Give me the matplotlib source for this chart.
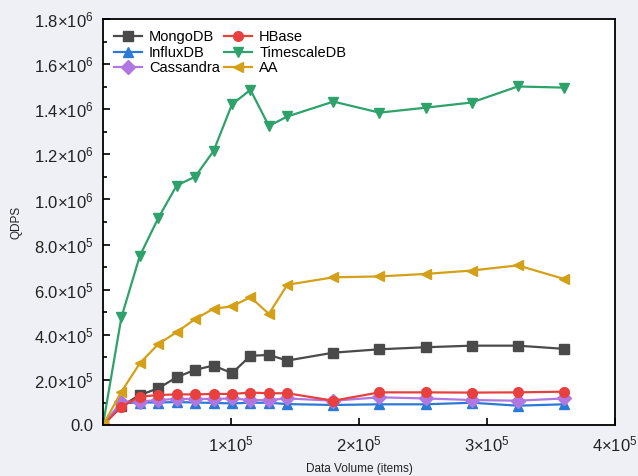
import matplotlib
matplotlib.use('Agg')
import matplotlib.pyplot as plt
from matplotlib.ticker import FuncFormatter, MultipleLocator

plt.rcParams['font.family'] = ['Liberation Sans', 'DejaVu Sans']
plt.rcParams['mathtext.fontset'] = 'custom'
plt.rcParams['mathtext.rm'] = 'Liberation Sans'
plt.rcParams['mathtext.it'] = 'Liberation Sans'

# data volume (items)
volume = [0, 14400, 28800, 43200, 57600, 72000, 86400, 100800, 115200,
          129600, 144000, 180000, 216000, 252000, 288000, 324000, 360000]

mongodb = [0, 85000, 133000, 163000, 212000, 245000, 264000, 230000, 307000,
           311000, 286000, 321000, 336000, 345000, 352000, 352000, 338000]
hbase = [0, 81000, 126000, 133000, 136000, 136000, 138000, 138000, 144000,
         141000, 141000, 108000, 145000, 145000, 144000, 145000, 148000]
influxdb = [0, 97000, 100000, 100000, 102000, 100000, 98000, 96000, 99000,
            99000, 93000, 89000, 92000, 92000, 99000, 86000, 92000]
timescaledb = [0, 478000, 750000, 918000, 1062000, 1101000, 1215000, 1422000, 1486000,
               1326000, 1368000, 1434000, 1385000, 1407000, 1430000, 1501000, 1496000]
cassandra = [0, 104000, 104000, 111000, 116000, 116000, 116000, 118000, 111000,
             111000, 118000, 108000, 123000, 118000, 111000, 108000, 118000]
aa = [0, 148000, 274000, 359000, 412000, 470000, 516000, 526000, 567000,
      493000, 622000, 655000, 659000, 670000, 685000, 708000, 648000]

series = [
    ('MongoDB', mongodb, '#4a4a4a', 's'),
    ('InfluxDB', influxdb, '#2b7bd6', '^'),
    ('Cassandra', cassandra, '#b077e0', 'D'),
    ('HBase', hbase, '#e8403f', 'o'),
    ('TimescaleDB', timescaledb, '#2ea26b', 'v'),
    ('AA', aa, '#d4a017', '<'),
]

fig = plt.figure(figsize=(6.38, 4.76), dpi=100, facecolor='#eef0f5')
ax = fig.add_axes([0.1614, 0.107, 0.8026, 0.853])
ax.set_facecolor('white')

for name, vals, color, mk in series:
    ax.plot(volume, vals, color=color, marker=mk, markersize=7, linewidth=1.6,
            label=name)

ax.set_xlim(0, 400000)
ax.set_ylim(0, 1800000)


def y_fmt(v, pos):
    if v == 0:
        return '0.0'
    exp = len(str(int(v))) - 1
    mant = v / 10 ** exp
    return r'$%.1f{\times}10^{%d}$' % (mant, exp)


def x_fmt(v, pos):
    if v == 0:
        return ''
    exp = len(str(int(v))) - 1
    mant = v / 10 ** exp
    return r'$%d{\times}10^{%d}$' % (round(mant), exp)


ax.yaxis.set_major_locator(MultipleLocator(200000))
ax.yaxis.set_minor_locator(MultipleLocator(100000))
ax.xaxis.set_major_locator(MultipleLocator(100000))
ax.yaxis.set_major_formatter(FuncFormatter(y_fmt))
ax.xaxis.set_major_formatter(FuncFormatter(x_fmt))

ax.tick_params(which='both', direction='in', labelsize=12, width=1.2,
               labelcolor='#222222')
ax.tick_params(which='major', length=5, pad=7)
ax.tick_params(which='minor', length=3)
for s in ax.spines.values():
    s.set_linewidth(1.3)

ax.set_xlabel('Data Volume (items)', fontsize=8.5, labelpad=6, color='#222222')
ax.set_ylabel('QDPS', fontsize=8.5, labelpad=8, color='#222222')

ax.legend(ncol=2, loc='upper left', frameon=False, fontsize=10.5,
          handlelength=1.9, columnspacing=0.3, labelspacing=0.12,
          borderaxespad=0.35, handletextpad=0.5)

fig.savefig('out.png', dpi=100, facecolor=fig.get_facecolor())
